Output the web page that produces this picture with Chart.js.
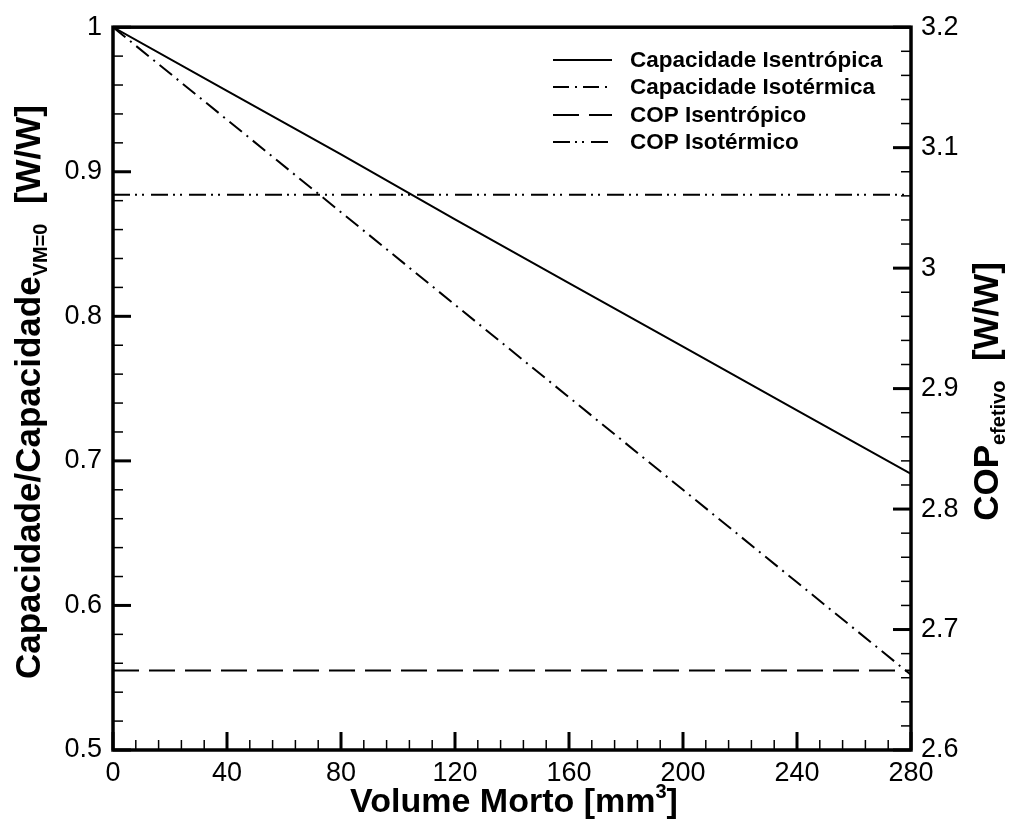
<!DOCTYPE html>
<html>
<head>
<meta charset="utf-8">
<script src="https://cdn.jsdelivr.net/npm/chart.js@4.4.1/dist/chart.umd.min.js"></script>
<style>
  body { margin: 0; background: #fff; }
  #wrap { width: 1013px; height: 819px; }
</style>
</head>
<body>
<div id="wrap"><canvas id="chart" width="1013" height="819"></canvas></div>
<script>
// values
const volumes = [0, 40, 80, 120, 160, 200, 240, 280];
const capIsentropica = [1, 0.956, 0.912, 0.867, 0.823, 0.779, 0.735, 0.691];
const capIsotermica = [1, 0.936, 0.872, 0.808, 0.744, 0.680, 0.616, 0.552];
const copIsentropico = [2.666, 2.666, 2.666, 2.666, 2.666, 2.666, 2.666, 2.666];
const copIsotermico = [3.061, 3.061, 3.061, 3.061, 3.061, 3.061, 3.061, 3.061];
const seriesLabels = ['Capacidade Isentrópica', 'Capacidade Isotérmica', 'COP Isentrópico', 'COP Isotérmico'];
const xTicks = [0, 40, 80, 120, 160, 200, 240, 280];
const yLeftTicks = [0.5, 0.6, 0.7, 0.8, 0.9, 1];
const yRightTicks = [2.6, 2.7, 2.8, 2.9, 3, 3.1, 3.2];

const FONT = '"Liberation Sans", Arial, Helvetica, sans-serif';

function toPoints(xs, ys) {
    return xs.map((x, i) => ({ x: x, y: ys[i] }));
}

function isMajor(v, list) {
    return list.some(t => Math.abs(t - v) < 1e-6);
}

function tickText(v, list) {
    if (!isMajor(v, list)) return '';
    return String(Math.round(v * 10) / 10);
}

// inward ticks + frame
const frameTicks = {
    id: 'frameTicks',
    afterDatasetsDraw(chart) {
        const ctx = chart.ctx;
        const a = chart.chartArea;
        ctx.save();
        ctx.strokeStyle = '#000';
        const specs = [
            { id: 'x', majors: xTicks },
            { id: 'y', majors: yLeftTicks },
            { id: 'y2', majors: yRightTicks }
        ];
        specs.forEach(s => {
            const scale = chart.scales[s.id];
            scale.ticks.forEach(t => {
                const major = isMajor(t.value, s.majors);
                const len = major ? 18 : 10;
                const p = scale.getPixelForValue(t.value);
                ctx.lineWidth = major ? 3 : 1.5;
                ctx.beginPath();
                if (s.id === 'x') {
                    ctx.moveTo(p, a.bottom);
                    ctx.lineTo(p, a.bottom - len);
                } else if (s.id === 'y') {
                    ctx.moveTo(a.left, p);
                    ctx.lineTo(a.left + len, p);
                } else {
                    ctx.moveTo(a.right, p);
                    ctx.lineTo(a.right - len, p);
                }
                ctx.stroke();
            });
        });
        ctx.lineWidth = 3.5;
        ctx.strokeRect(a.left, a.top, a.right - a.left, a.bottom - a.top);
        ctx.restore();
    }
};

// legend inside the plot, top right
const innerLegend = {
    id: 'innerLegend',
    afterDraw(chart) {
        const ctx = chart.ctx;
        const rows = [60, 87, 115, 142];
        ctx.save();
        chart.data.datasets.forEach((ds, i) => {
            const y = rows[i];
            ctx.strokeStyle = '#000';
            ctx.lineWidth = 2;
            ctx.setLineDash(ds.borderDash || []);
            ctx.beginPath();
            ctx.moveTo(553, y);
            ctx.lineTo(612, y);
            ctx.stroke();
            ctx.setLineDash([]);
            ctx.fillStyle = '#000';
            ctx.font = 'bold 22.5px ' + FONT;
            ctx.textBaseline = 'middle';
            ctx.textAlign = 'left';
            ctx.fillText(ds.label, 630, y + 1);
        });
        ctx.restore();
    }
};

// text pieces (with sub/superscripts); anchor = 'center' or 'end' at (ax, ay)
function drawRich(ctx, parts, ax, ay, angle, anchor) {
    ctx.save();
    ctx.translate(ax, ay);
    ctx.rotate(angle);
    let total = 0;
    parts.forEach(p => { ctx.font = p.font; p.w = ctx.measureText(p.text).width; total += p.w; });
    let x = anchor === 'end' ? -total : -total / 2;
    ctx.textBaseline = 'alphabetic';
    ctx.textAlign = 'left';
    ctx.fillStyle = '#000';
    parts.forEach(p => {
        ctx.font = p.font;
        ctx.fillText(p.text, x, p.dy || 0);
        x += p.w;
    });
    ctx.restore();
}

const axisTitles = {
    id: 'axisTitles',
    afterDraw(chart) {
        const ctx = chart.ctx;
        const big = 'bold 34px ' + FONT;
        const small = 'bold 20px ' + FONT;
        drawRich(ctx, [
            { text: 'Volume Morto [mm', font: big },
            { text: '3', font: small, dy: -14 },
            { text: ']', font: big }
        ], 514, 812, 0, 'center');
        // rotated titles: 'end' is the top of the text
        drawRich(ctx, [
            { text: 'Capacidade/Capacidade', font: 'bold 35px ' + FONT },
            { text: 'VM=0', font: small, dy: 7 },
            { text: '  [W/W]', font: 'bold 35px ' + FONT }
        ], 40, 105, -Math.PI / 2, 'end');
        drawRich(ctx, [
            { text: 'COP', font: 'bold 35px ' + FONT },
            { text: 'efetivo', font: small, dy: 7 },
            { text: '  [W/W]', font: 'bold 35px ' + FONT }
        ], 998, 262, -Math.PI / 2, 'end');
    }
};

const tickFont = { family: FONT, size: 27 };

new Chart(document.getElementById('chart'), {
    type: 'line',
    data: {
        datasets: [
            { label: seriesLabels[0], data: toPoints(volumes, capIsentropica), yAxisID: 'y', borderColor: '#000', borderWidth: 2, borderDash: [], pointRadius: 0 },
            { label: seriesLabels[1], data: toPoints(volumes, capIsotermica), yAxisID: 'y', borderColor: '#000', borderWidth: 2, borderDash: [16, 6, 2, 6], pointRadius: 0 },
            { label: seriesLabels[2], data: toPoints(volumes, copIsentropico), yAxisID: 'y2', borderColor: '#000', borderWidth: 2, borderDash: [26, 10], pointRadius: 0 },
            { label: seriesLabels[3], data: toPoints(volumes, copIsotermico), yAxisID: 'y2', borderColor: '#000', borderWidth: 2, borderDash: [17, 5, 2, 5, 2, 7], pointRadius: 0 }
        ]
    },
    options: {
        responsive: false,
        animation: false,
        layout: { padding: { top: 22, left: 0, right: 0, bottom: 0 } },
        plugins: { legend: { display: false }, tooltip: { enabled: false } },
        scales: {
            x: {
                type: 'linear', min: 0, max: 280,
                grid: { drawOnChartArea: false, drawTicks: false },
                border: { display: false },
                ticks: { stepSize: 8, autoSkip: false, maxRotation: 0, padding: 7, color: '#000', font: tickFont,
                    callback: v => isMajor(v, xTicks) ? String(v) : '' },
                afterFit: s => { s.height = 69; }
            },
            y: {
                position: 'left', min: 0.5, max: 1,
                grid: { drawOnChartArea: false, drawTicks: false },
                border: { display: false },
                ticks: { stepSize: 0.02, autoSkip: false, padding: 11, color: '#000', font: tickFont,
                    callback: v => tickText(v, yLeftTicks) },
                afterFit: s => { s.width = 113; }
            },
            y2: {
                position: 'right', min: 2.6, max: 3.2,
                grid: { drawOnChartArea: false, drawTicks: false },
                border: { display: false },
                ticks: { stepSize: 0.02, autoSkip: false, padding: 10, color: '#000', font: tickFont,
                    callback: v => tickText(v, yRightTicks) },
                afterFit: s => { s.width = 102; }
            }
        }
    },
    plugins: [frameTicks, innerLegend, axisTitles]
});
</script>
</body>
</html>
